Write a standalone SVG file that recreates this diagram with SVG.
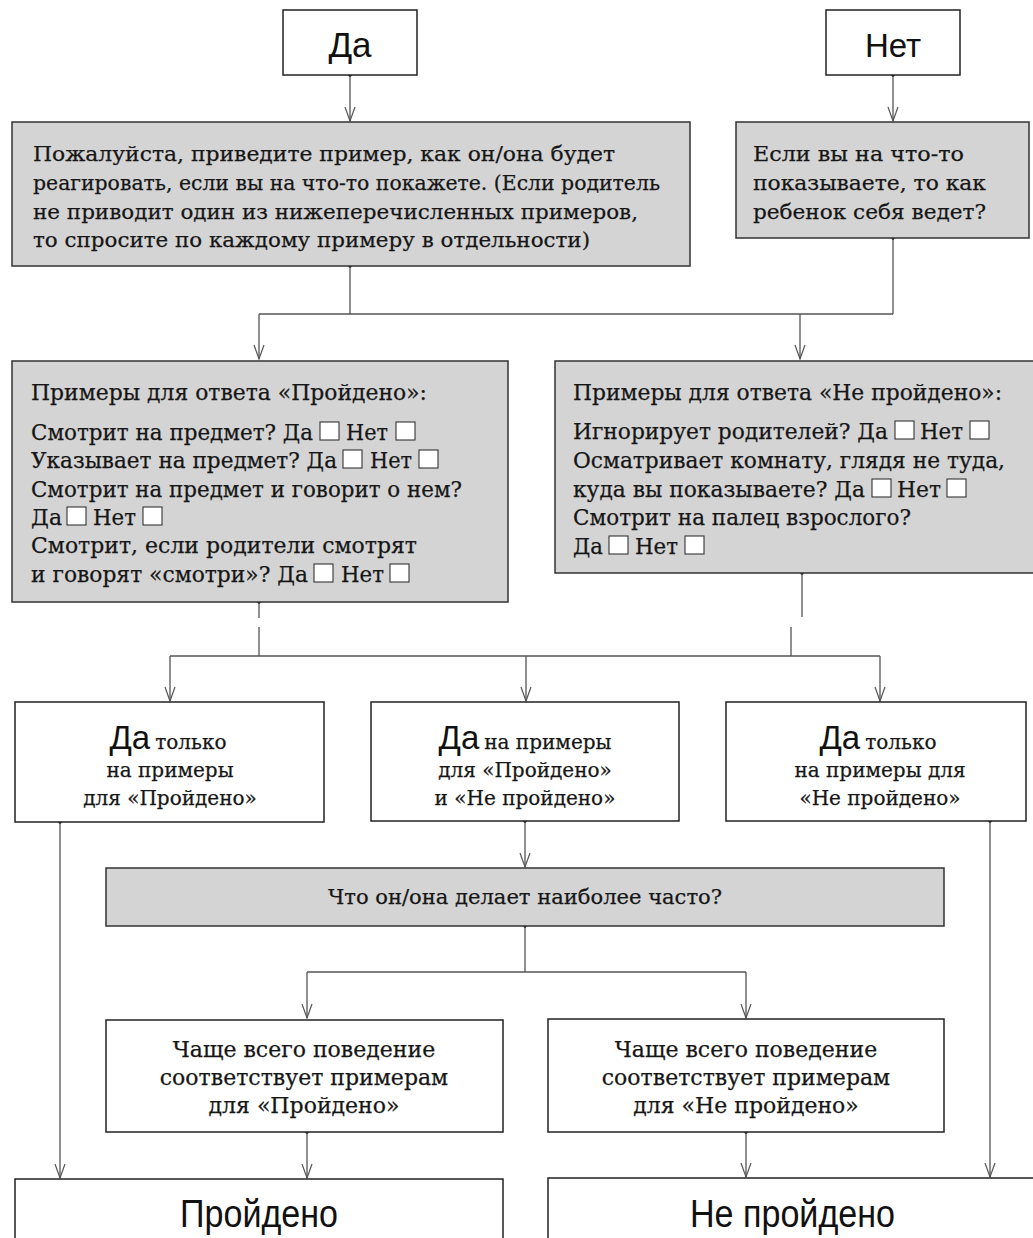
<svg xmlns="http://www.w3.org/2000/svg" width="1033" height="1238" viewBox="0 0 1033 1238">
<style>
.wb{fill:#fff;stroke:#222;stroke-width:1.5}
.gb{fill:#d4d4d4;stroke:#333;stroke-width:1.5}
.ln{fill:none;stroke:#555;stroke-width:1.3}
.cb{fill:#fff;stroke:#333;stroke-width:1.1}
.s{font-family:"DejaVu Serif","Liberation Serif",serif;font-size:21px;fill:#161616;stroke:#161616;stroke-width:0.25}
.l{font-family:"DejaVu Serif","Liberation Serif",serif;font-size:22px;fill:#161616;stroke:#161616;stroke-width:0.25}
.s3{font-family:"DejaVu Serif","Liberation Serif",serif;font-size:20px;fill:#161616;stroke:#161616;stroke-width:0.25}
.big{font-family:"Liberation Sans","DejaVu Sans",sans-serif;fill:#111}
.m{text-anchor:middle}
.dot{fill:#222}
</style>

<g id="connectors">
<path class="ln" d="M350,75 V121 M893,75 V121"/>
<path class="ln" d="M350,266 V314 M893,238 V314 M259,314 H893 M259,314 V359 M800,314 V359"/>
<path class="ln" d="M259,602 V618 M259,627 V656 M802,573 V617 M791,627 V656 M170,656 H880"/>
<path class="ln" d="M170,656 V701 M526,656 V701 M880,656 V701"/>
<path class="ln" d="M60,822 V1178 M525,821 V867 M990,821 V1177"/>
<path class="ln" d="M525,926 V972 M307,972 H746 M307,972 V1018 M746,972 V1018"/>
<path class="ln" d="M307,1132 V1178 M746,1132 V1177"/>
<g fill="none" stroke="#555" stroke-width="1.2">
<path d="M345,107 L350,121 L355,107"/>
<path d="M888,107 L893,121 L898,107"/>
<path d="M254,345 L259,359 L264,345"/>
<path d="M795,345 L800,359 L805,345"/>
<path d="M165,687 L170,701 L175,687"/>
<path d="M521,687 L526,701 L531,687"/>
<path d="M875,687 L880,701 L885,687"/>
<path d="M520,853 L525,867 L530,853"/>
<path d="M302,1004 L307,1018 L312,1004"/>
<path d="M741,1004 L746,1018 L751,1004"/>
<path d="M55,1164 L60,1178 L65,1164"/>
<path d="M302,1164 L307,1178 L312,1164"/>
<path d="M741,1163 L746,1177 L751,1163"/>
<path d="M985,1163 L990,1177 L995,1163"/>
</g>
<g class="dot">
<circle cx="350" cy="75" r="1.8"/><circle cx="893" cy="75" r="1.8"/>
<circle cx="350" cy="266" r="1.8"/><circle cx="893" cy="238" r="1.8"/>
<circle cx="259" cy="602" r="1.8"/><circle cx="802" cy="573" r="1.8"/>
<circle cx="60" cy="822" r="1.8"/><circle cx="525" cy="821" r="1.8"/><circle cx="990" cy="821" r="1.8"/>
<circle cx="525" cy="926" r="1.8"/><circle cx="307" cy="1132" r="1.8"/><circle cx="746" cy="1132" r="1.8"/>
</g>
</g>

<g id="n-da">
<rect class="wb" x="283" y="10" width="134" height="65"/>
<text class="big m" x="350" y="57" font-size="35">Да</text>
</g>
<g id="n-net">
<rect class="wb" x="826" y="10" width="134" height="65"/>
<text class="big m" x="893" y="57" font-size="33">Нет</text>
</g>

<g id="n-ask">
<rect class="gb" x="12" y="122" width="678" height="144"/>
<text class="s" x="33" y="161" textLength="582" lengthAdjust="spacingAndGlyphs">Пожалуйста, приведите пример, как он/она будет</text>
<text class="s" x="33" y="190" textLength="627" lengthAdjust="spacingAndGlyphs">реагировать, если вы на что-то покажете. (Если родитель</text>
<text class="s" x="33" y="219" textLength="605" lengthAdjust="spacingAndGlyphs">не приводит один из нижеперечисленных примеров,</text>
<text class="s" x="33" y="247" textLength="557" lengthAdjust="spacingAndGlyphs">то спросите по каждому примеру в отдельности)</text>
</g>

<g id="n-ifpoint">
<rect class="gb" x="736" y="122" width="293" height="116"/>
<text class="s" x="753" y="161" textLength="211" lengthAdjust="spacingAndGlyphs">Если вы на что-то</text>
<text class="s" x="753" y="190" textLength="233" lengthAdjust="spacingAndGlyphs">показываете, то как</text>
<text class="s" x="753" y="219" textLength="233" lengthAdjust="spacingAndGlyphs">ребенок себя ведет?</text>
</g>

<g id="n-pass-examples">
<rect class="gb" x="12" y="361" width="496" height="241"/>
<text class="l" x="31" y="400" textLength="396" lengthAdjust="spacingAndGlyphs">Примеры для ответа «Пройдено»:</text>
<text class="l" x="31" y="440" textLength="282" lengthAdjust="spacingAndGlyphs">Смотрит на предмет? Да</text>
<rect class="cb" x="320" y="422" width="19" height="18"/>
<text class="l" x="346" y="440" textLength="42" lengthAdjust="spacingAndGlyphs">Нет</text>
<rect class="cb" x="396" y="422" width="19" height="18"/>
<text class="l" x="31" y="468" textLength="306" lengthAdjust="spacingAndGlyphs">Указывает на предмет? Да</text>
<rect class="cb" x="343" y="450" width="19" height="18"/>
<text class="l" x="370" y="468" textLength="42" lengthAdjust="spacingAndGlyphs">Нет</text>
<rect class="cb" x="419" y="450" width="19" height="18"/>
<text class="l" x="31" y="497" textLength="431" lengthAdjust="spacingAndGlyphs">Смотрит на предмет и говорит о нем?</text>
<text class="l" x="31" y="525" textLength="31" lengthAdjust="spacingAndGlyphs">Да</text>
<rect class="cb" x="67" y="507" width="19" height="18"/>
<text class="l" x="93" y="525" textLength="43" lengthAdjust="spacingAndGlyphs">Нет</text>
<rect class="cb" x="143" y="507" width="19" height="18"/>
<text class="l" x="31" y="553" textLength="386" lengthAdjust="spacingAndGlyphs">Смотрит, если родители смотрят</text>
<text class="l" x="31" y="582" textLength="277" lengthAdjust="spacingAndGlyphs">и говорят «смотри»? Да</text>
<rect class="cb" x="314" y="564" width="19" height="18"/>
<text class="l" x="341" y="582" textLength="43" lengthAdjust="spacingAndGlyphs">Нет</text>
<rect class="cb" x="390" y="564" width="19" height="18"/>
</g>

<g id="n-fail-examples">
<rect class="gb" x="555" y="361" width="490" height="212"/>
<text class="l" x="573" y="400" textLength="429" lengthAdjust="spacingAndGlyphs">Примеры для ответа «Не пройдено»:</text>
<text class="l" x="573" y="439" textLength="315" lengthAdjust="spacingAndGlyphs">Игнорирует родителей? Да</text>
<rect class="cb" x="895" y="421" width="19" height="18"/>
<text class="l" x="920" y="439" textLength="43" lengthAdjust="spacingAndGlyphs">Нет</text>
<rect class="cb" x="970" y="421" width="19" height="18"/>
<text class="l" x="573" y="468" textLength="432" lengthAdjust="spacingAndGlyphs">Осматривает комнату, глядя не туда,</text>
<text class="l" x="573" y="497" textLength="292" lengthAdjust="spacingAndGlyphs">куда вы показываете? Да</text>
<rect class="cb" x="872" y="479" width="19" height="18"/>
<text class="l" x="897" y="497" textLength="44" lengthAdjust="spacingAndGlyphs">Нет</text>
<rect class="cb" x="947" y="479" width="19" height="18"/>
<text class="l" x="573" y="525" textLength="338" lengthAdjust="spacingAndGlyphs">Смотрит на палец взрослого?</text>
<text class="l" x="573" y="554" textLength="30" lengthAdjust="spacingAndGlyphs">Да</text>
<rect class="cb" x="609" y="536" width="19" height="18"/>
<text class="l" x="635" y="554" textLength="43" lengthAdjust="spacingAndGlyphs">Нет</text>
<rect class="cb" x="685" y="536" width="19" height="18"/>
</g>

<g id="n-yes-pass">
<rect class="wb" x="15" y="702" width="309" height="120"/>
<text class="m" x="168" y="749"><tspan class="big" font-size="33">Да</tspan><tspan class="s3" dx="5">только</tspan></text>
<text class="s3 m" x="170" y="777">на примеры</text>
<text class="s3 m" x="170" y="805">для «Пройдено»</text>
</g>

<g id="n-yes-both">
<rect class="wb" x="371" y="702" width="308" height="119"/>
<text class="m" x="525" y="749"><tspan class="big" font-size="33">Да</tspan><tspan class="s3" dx="5">на примеры</tspan></text>
<text class="s3 m" x="525" y="777">для «Пройдено»</text>
<text class="s3 m" x="525" y="805">и «Не пройдено»</text>
</g>

<g id="n-yes-fail">
<rect class="wb" x="726" y="702" width="300" height="119"/>
<text class="m" x="878" y="749"><tspan class="big" font-size="33">Да</tspan><tspan class="s3" dx="5">только</tspan></text>
<text class="s3 m" x="880" y="777">на примеры для</text>
<text class="s3 m" x="880" y="805">«Не пройдено»</text>
</g>

<g id="n-most">
<rect class="gb" x="106" y="868" width="838" height="58"/>
<text class="s" x="328" y="904" textLength="394" lengthAdjust="spacingAndGlyphs">Что он/она делает наиболее часто?</text>
</g>

<g id="n-most-pass">
<rect class="wb" x="106" y="1020" width="397" height="112"/>
<text class="l m" x="304" y="1057">Чаще всего поведение</text>
<text class="l m" x="304" y="1085">соответствует примерам</text>
<text class="l m" x="304" y="1113">для «Пройдено»</text>
</g>

<g id="n-most-fail">
<rect class="wb" x="548" y="1019" width="396" height="113"/>
<text class="l m" x="746" y="1057">Чаще всего поведение</text>
<text class="l m" x="746" y="1085">соответствует примерам</text>
<text class="l m" x="746" y="1113">для «Не пройдено»</text>
</g>

<g id="n-pass">
<rect class="wb" x="15" y="1179" width="488" height="80"/>
<text class="big" x="180" y="1227" font-size="38" textLength="158" lengthAdjust="spacingAndGlyphs">Пройдено</text>
</g>

<g id="n-fail">
<rect class="wb" x="548" y="1178" width="500" height="80"/>
<text class="big" x="690" y="1227" font-size="38" textLength="205" lengthAdjust="spacingAndGlyphs">Не пройдено</text>
</g>
</svg>
